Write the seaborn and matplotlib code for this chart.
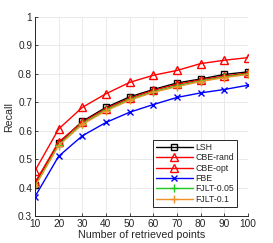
import matplotlib
matplotlib.use("Agg")
import matplotlib.pyplot as plt
import seaborn as sns
import pandas as pd

points = [10, 20, 30, 40, 50, 60, 70, 80, 90, 100]
lsh = [0.410, 0.556, 0.633, 0.682, 0.719, 0.745, 0.768, 0.782, 0.798, 0.807]
cbe_rand = [0.418, 0.560, 0.630, 0.678, 0.714, 0.742, 0.763, 0.779, 0.792, 0.803]
cbe_opt = [0.459, 0.606, 0.682, 0.730, 0.770, 0.795, 0.812, 0.836, 0.848, 0.857]
fbe = [0.368, 0.510, 0.582, 0.629, 0.665, 0.692, 0.717, 0.733, 0.745, 0.760]
fjlt_005 = [0.405, 0.550, 0.625, 0.673, 0.710, 0.737, 0.758, 0.775, 0.789, 0.800]
fjlt_01 = [0.405, 0.548, 0.622, 0.670, 0.707, 0.735, 0.755, 0.773, 0.787, 0.798]

x_ticks = [10, 20, 30, 40, 50, 60, 70, 80, 90, 100]
y_ticks = [0.3, 0.4, 0.5, 0.6, 0.7, 0.8, 0.9, 1.0]
y_ticklabels = ["0.3", "0.4", "0.5", "0.6", "0.7", "0.8", "0.9", "1"]

series = [
    ("LSH", lsh, "#000000", "s", 4.0, "none"),
    ("CBE-rand", cbe_rand, "#FF0000", "^", 5.5, "none"),
    ("CBE-opt", cbe_opt, "#FF0000", "^", 5.5, "none"),
    ("FBE", fbe, "#0000FF", "x", 4.5, "full"),
    ("FJLT-0.05", fjlt_005, "#1EC81E", "+", 6.0, "full"),
    ("FJLT-0.1", fjlt_01, "#F0902A", "+", 6.0, "full"),
]

sns.set_style("white")
plt.rcParams["font.family"] = ["Liberation Sans", "DejaVu Sans"]

fig = plt.figure(figsize=(2.73, 2.43), dpi=100)
ax = fig.add_axes([0.128, 0.111, 0.780, 0.819])

for name, vals, color, marker, ms, fill in series:
    df = pd.DataFrame({"points": points, "recall": vals})
    kw = dict(marker=marker, markersize=ms, markeredgecolor=color,
              markeredgewidth=1.0, linewidth=1.0, color=color, label=name)
    kw["markerfacecolor"] = "none" if fill == "none" else color
    sns.lineplot(data=df, x="points", y="recall", ax=ax, **kw)

ax.set_xlim(10, 100)
ax.set_ylim(0.3, 1.0)
ax.set_xticks(x_ticks)
ax.set_yticks(y_ticks)
ax.set_yticklabels(y_ticklabels)
ax.grid(True, color="#E6E6E6", linewidth=0.6)
ax.set_axisbelow(True)
for s in ["top", "right"]:
    ax.spines[s].set_visible(False)
for s in ["left", "bottom"]:
    ax.spines[s].set_color("#262626")
    ax.spines[s].set_linewidth(0.7)
ax.tick_params(axis="both", direction="in", length=2.5, width=0.6,
               labelsize=7.3, colors="#262626", pad=2,
               bottom=True, left=True)
ax.set_xlabel("Number of retrieved points", fontsize=7.7, color="#262626", labelpad=1)
ax.set_ylabel("Recall", fontsize=7.7, color="#262626", labelpad=3)

leg = ax.legend(loc="lower right", bbox_to_anchor=(0.950, 0.047), borderaxespad=0,
                fontsize=6.3, handlelength=4.2, handletextpad=0.3, labelspacing=0.15,
                frameon=True, fancybox=False, framealpha=1, borderpad=0.35)
leg.get_frame().set_edgecolor("#262626")
leg.get_frame().set_linewidth(0.7)

fig.savefig("out.png", dpi=100)
